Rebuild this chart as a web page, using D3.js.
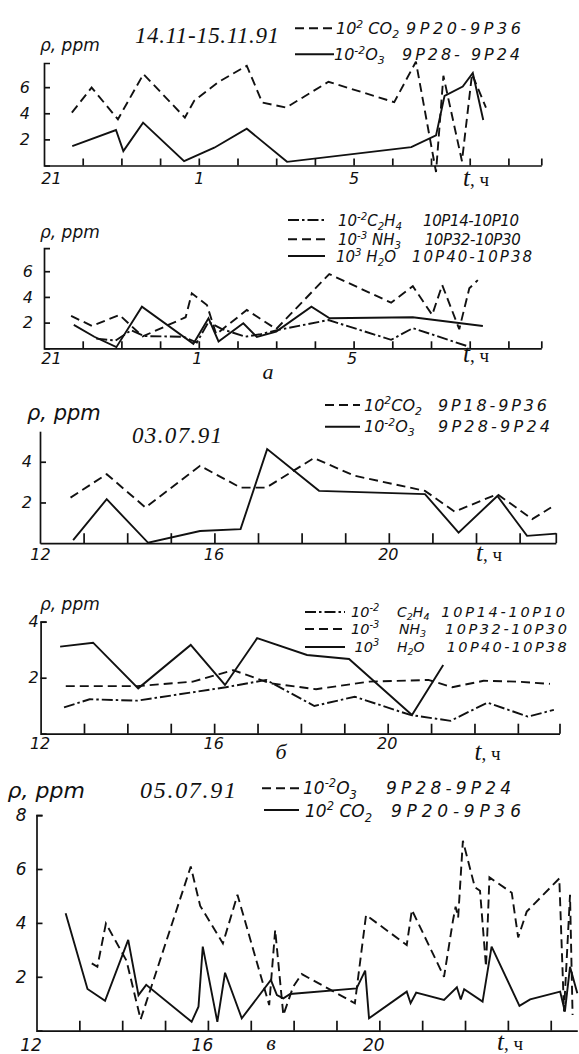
<!DOCTYPE html>
<html><head><meta charset="utf-8">
<script src="https://cdn.jsdelivr.net/npm/d3@7"></script>
<style>body{margin:0;background:#fff}svg{display:block}</style>
</head><body>
<svg id="c" width="579" height="1054"></svg>
<script>
// ---------- DATA ----------
// Panel a (upper): 14.11-15.11.91, hours counted from 21 h (values past midnight as 24+)
const p1_CO2 = [[21.72,4.05],[22.23,5.97],[22.91,3.54],[23.57,7.0],[24.64,3.67],[24.88,4.95],[25.49,6.36],[26.24,7.64],[26.64,4.82],[27.26,4.44],[28.35,6.41],[30.05,4.85],[30.61,7.95],[31.13,-0.5],[31.32,6.87],[31.80,0.33],[32.06,7.0],[32.42,4.44]];
const p1_O3 = [[21.73,1.49],[22.86,2.72],[23.05,1.10],[23.56,3.28],[24.62,0.33],[25.40,1.36],[26.24,2.82],[27.28,0.28],[30.49,1.41],[31.13,2.31],[31.35,5.33],[31.82,6.05],[32.08,7.08],[32.35,3.48]];
// Panel a (lower)
const p2_C2H4 = [[22.35,0.75],[22.85,0.6],[23.25,1.4],[23.6,0.95],[24.6,0.9],[24.95,0.45],[25.25,2.05],[25.6,1.5],[26.2,0.9],[26.6,1.1],[27.0,1.4],[28.35,2.2],[29.97,0.66],[30.53,1.57],[31.91,0.2]];
const p2_NH3 = [[21.70,2.52],[22.24,1.74],[22.95,2.60],[23.55,0.92],[24.66,2.42],[24.82,4.28],[25.21,3.37],[25.45,1.1],[26.24,2.98],[27.0,1.5],[28.37,5.78],[29.97,3.55],[30.53,4.84],[31.03,2.60],[31.29,4.92],[31.73,1.49],[31.99,4.67],[32.21,5.31]];
const p2_H2O = [[21.77,1.82],[22.3,0.9],[22.87,0.09],[23.53,3.24],[24.86,0.35],[25.25,2.34],[25.51,0.53],[26.15,1.95],[26.5,0.88],[27.0,1.3],[27.91,3.24],[28.38,2.34],[30.53,2.42],[32.34,1.74]];
// Panel б (upper): 03.07.91
const p3_CO2 = [[12.70,2.24],[13.53,3.39],[14.42,1.75],[15.67,3.80],[16.60,2.73],[17.19,2.73],[18.28,4.18],[19.22,3.31],[20.83,2.57],[21.51,1.55],[22.49,2.41],[23.29,1.18],[23.72,1.75]];
const p3_O3 = [[12.76,0.15],[13.53,2.16],[14.48,0.02],[15.67,0.60],[16.60,0.69],[17.21,4.62],[18.40,2.57],[20.83,2.41],[21.60,0.52],[22.49,2.32],[23.17,0.36],[23.84,0.47]];
// Panel б (lower)
const p4_C2H4 = [[12.54,0.94],[13.13,1.23],[14.23,1.18],[16.27,1.66],[17.20,1.92],[18.31,0.99],[19.24,1.32],[20.52,0.67],[21.45,0.46],[22.30,1.11],[23.23,0.61],[23.83,0.85]];
const p4_NH3 = [[12.58,1.70],[14.23,1.70],[15.51,1.86],[16.44,2.27],[17.29,1.80],[18.35,1.59],[19.58,1.86],[20.94,1.92],[21.49,1.66],[22.21,1.89],[22.98,1.86],[23.74,1.78]];
const p4_H2O = [[12.45,3.11],[13.21,3.25],[14.25,1.62],[15.46,3.17],[16.25,1.74],[16.99,3.41],[18.14,2.81],[19.11,2.67],[20.56,0.67],[21.28,2.45]];
// Panel в: 05.07.91
const p5_O3 = [[13.29,2.50],[13.42,2.37],[13.62,3.98],[14.1,2.6],[14.43,0.42],[15.60,6.09],[15.82,4.63],[16.35,3.24],[16.69,5.04],[17.43,0.95],[17.57,3.74],[17.76,0.58],[17.99,1.63],[18.19,2.10],[19.43,1.02],[19.69,4.29],[20.64,3.18],[20.76,4.48],[21.51,2.00],[21.72,4.1],[21.78,4.6],[21.84,4.2],[21.95,7.05],[22.23,5.32],[22.35,5.19],[22.49,2.37],[22.57,5.69],[23.09,5.12],[23.24,3.46],[23.44,4.42],[24.20,5.65],[24.31,0.71],[24.45,5.04],[24.51,0.58]];
const p5_CO2 = [[12.68,4.36],[13.19,1.55],[13.60,1.11],[14.14,3.37],[14.38,1.32],[14.56,1.70],[15.62,0.33],[15.78,0.89],[15.88,3.12],[16.22,0.33],[16.40,2.15],[16.79,0.46],[17.47,1.88],[17.61,1.32],[17.76,1.20],[17.92,1.36],[19.47,1.57],[19.67,2.23],[19.76,0.46],[20.64,1.45],[20.73,1.02],[20.86,1.41],[21.51,1.14],[21.81,1.61],[21.90,1.16],[21.98,1.54],[22.41,1.08],[22.62,3.12],[23.27,0.92],[23.52,1.16],[24.22,1.45],[24.33,0.71],[24.45,2.37],[24.62,1.39]];

// tick values / labels
const ticksNight = [21,22,23,24,25,26,27,28,29,30,31,32,33,33.85];
const labelsNight = [[21,"21"],[25,"1"],[29,"5"]];
const ticksDay3 = [12,13,14,15,16,17,18,19,20,21,22,23,23.83];
const ticksDay4 = [12,13,14,15,16,17,18,19,20,21,22,23,23.96];
const ticksDay5 = [12,13,14,15,16,17,18,19,20,21,22,23,24];
const labelsDay = [[12,"12"],[16,"16"],[20,"20"]];
const yTicks8 = [2,4,6];
const yTicks5 = [2,4];
const yTicks4 = [2,4];
const yTicks5b = [2,4,6,8];

// legend texts
const leg1 = [["10^{2} CO_{2}","9P20-9P36"],["10^{-2}O_{3}","9P28- 9P24"]];
const leg2 = [["10^{-2}C_{2}H_{4}","10P14-10P10"],["10^{-3} NH_{3}","10P32-10P30"],["10^{3} H_{2}O","10P40-10P38"]];
const leg3 = [["10^{2}CO_{2}","9P18-9P36"],["10^{-2}O_{3}","9P28-9P24"]];
const leg4 = [["10^{-2}","C_{2}H_{4}","10P14-10P10"],["10^{-3}","NH_{3}","10P32-10P30"],["10^{3}","H_{2}O","10P40-10P38"]];
const leg5 = [["10^{-2}O_{3}","9P28-9P24"],["10^{2} CO_{2}","9P20-9P36"]];
const dates = ["14.11-15.11.91","03.07.91","05.07.91"];
const yTitle = "ρ, ppm";
const xTitleT = "t", xTitleU = ", ч";
const panelLetters = ["a","б","в"];

// ---------- DRAW ----------
const svg = d3.select('#c');
const SANS = "'DejaVu Sans','Liberation Sans',sans-serif";
const SERIF = "'Liberation Serif','DejaVu Serif',serif";
const INK = '#111';
const DASH = {solid: null, dashed: '9,5', dashdot: '11,3,2.5,3'};

function rich(t, str, fs) {
  const parts = str.split(/(\^\{[^}]*\}|_\{[^}]*\})/).filter(s => s.length);
  let shift = 0;
  parts.forEach(p => {
    let txt = p, dy = 0, size = fs;
    if (p.startsWith('^{')) { txt = p.slice(2,-1); size = fs*0.68; dy = -fs*0.4; }
    else if (p.startsWith('_{')) { txt = p.slice(2,-1); size = fs*0.68; dy = fs*0.28; }
    const ts = t.append('tspan').attr('font-size', size).text(txt);
    if (dy - shift) ts.attr('dy', dy - shift);
    shift = dy;
  });
}

function sansText(x, y, str, fs, len) {
  const t = svg.append('text').attr('x', x).attr('y', y).attr('font-family', SANS)
    .attr('font-style','italic').attr('font-size', fs).attr('fill', INK);
  if (str.indexOf('^{')>=0 || str.indexOf('_{')>=0) rich(t, str, fs); else t.text(str);
  if (len) t.attr('textLength', len).attr('lengthAdjust','spacing');
  return t;
}
function serifText(x, y, str, fs, len, anchor) {
  const t = svg.append('text').attr('x', x).attr('y', y).attr('font-family', SERIF)
    .attr('font-style','italic').attr('font-size', fs).attr('fill', INK).text(str);
  if (len) t.attr('textLength', len).attr('lengthAdjust','spacing');
  if (anchor) t.attr('text-anchor', anchor);
  return t;
}
function xTitle(x, y) {
  const t = svg.append('text').attr('x', x).attr('y', y).attr('fill', INK).attr('font-family', SERIF);
  t.append('tspan').attr('font-style','italic').attr('font-size', 25).text(xTitleT);
  t.append('tspan').attr('font-size', 19).text(xTitleU);
}
function legendLine(x1, x2, y, style) {
  svg.append('line').attr('x1', x1).attr('x2', x2).attr('y1', y).attr('y2', y)
    .attr('stroke', INK).attr('stroke-width', 1.9).attr('stroke-dasharray', DASH[style]);
}

function drawPanel(c) {
  const x = d3.scaleLinear().domain(c.xDomain).range(c.xRange);
  const y = d3.scaleLinear().domain(c.yDomain).range(c.yRange);
  const g = svg.append('g');
  const lab = new Map(c.xLabels);
  const xa = d3.axisBottom(x).tickValues(c.xTicks).tickSize(-c.xTickLen).tickSizeOuter(0)
    .tickPadding(c.xPad).tickFormat(d => lab.get(d) || '');
  const gx = g.append('g').attr('transform', `translate(0,${y(0)})`).call(xa);
  gx.selectAll('.tick').filter(d => d === c.xDomain[0]).select('line').remove();
  gx.selectAll('.tick text').attr('dx', d => d === c.xDomain[0] ? c.firstDx : c.labelDx);
  const ya = d3.axisLeft(y).tickValues(c.yTicks).tickSize(-6).tickSizeOuter(c.bracket ? -6 : 0)
    .tickPadding(c.yPad).tickFormat(d3.format('d'));
  const gy = g.append('g').attr('transform', `translate(${x(c.xDomain[0])},0)`).call(ya);
  [gx, gy].forEach(a => {
    a.selectAll('path,line').attr('stroke', INK).attr('stroke-width', 1.7);
    a.selectAll('text').attr('font-family', SANS).attr('font-style','italic')
      .attr('font-size', c.tickFs).attr('fill', INK);
  });
  const line = d3.line().x(d => x(d[0])).y(d => y(d[1]));
  c.series.forEach(s => {
    g.append('path').datum(s.data).attr('d', line).attr('fill','none')
      .attr('stroke', INK).attr('stroke-width', 1.9).attr('stroke-linejoin','miter')
      .attr('stroke-miterlimit', 3).attr('stroke-dasharray', DASH[s.style]);
  });
}

// Panel 1
drawPanel({xDomain:[21,33.85], xRange:[44,541.3], yDomain:[0,7.85], yRange:[165.5,63],
  xTicks: ticksNight, xLabels: labelsNight, yTicks: yTicks8, xTickLen:7, xPad:7, yPad:14,
  firstDx: 7, labelDx: 0, tickFs: 16, bracket: true,
  series:[{data:p1_CO2, style:'dashed'},{data:p1_O3, style:'solid'}]});
// Panel 2
drawPanel({xDomain:[21,33.85], xRange:[44,541.3], yDomain:[0,7.8], yRange:[348.3,248.1],
  xTicks: ticksNight, xLabels: labelsNight, yTicks: yTicks8, xTickLen:7, xPad:4, yPad:11,
  firstDx: 7, labelDx: -2, tickFs: 16, bracket: true,
  series:[{data:p2_C2H4, style:'dashdot'},{data:p2_NH3, style:'dashed'},{data:p2_H2O, style:'solid'}]});
// Panel 3
drawPanel({xDomain:[12,23.83], xRange:[40,555.8], yDomain:[0,5.5], yRange:[543.2,431.2],
  xTicks: ticksDay3, xLabels: labelsDay, yTicks: yTicks5, xTickLen:10, xPad:5, yPad:8,
  firstDx: 0, labelDx: -1, tickFs: 16, bracket: false,
  series:[{data:p3_CO2, style:'dashed'},{data:p3_O3, style:'solid'}]});
// Panel 4
drawPanel({xDomain:[12,23.96], xRange:[40.6,559.5], yDomain:[0,4], yRange:[733.7,621.7],
  xTicks: ticksDay4, xLabels: labelsDay, yTicks: yTicks4, xTickLen:10, xPad:4, yPad:2,
  firstDx: -1, labelDx: -1, tickFs: 16, bracket: true,
  series:[{data:p4_C2H4, style:'dashdot'},{data:p4_NH3, style:'dashed'},{data:p4_H2O, style:'solid'}]});
// Panel 5
drawPanel({xDomain:[12,24.62], xRange:[36.5,577.3], yDomain:[0,8], yRange:[1030.7,815.1],
  xTicks: ticksDay5, xLabels: labelsDay, yTicks: yTicks5b, xTickLen:10, xPad:8, yPad:10,
  firstDx: -6, labelDx: -6, tickFs: 17, bracket: true,
  series:[{data:p5_O3, style:'dashed'},{data:p5_CO2, style:'solid'}]});

// ----- titles, legends -----
// Panel 1
sansText(40, 51, yTitle, 17);
serifText(135, 43, dates[0], 23, 144);
legendLine(295, 334, 28.3, 'dashed');
sansText(336, 34, leg1[0][0], 16);
sansText(406, 34, leg1[0][1], 16, 115);
legendLine(295, 334, 54.3, 'solid');
sansText(334, 60, leg1[1][0], 16);
sansText(402, 60, leg1[1][1], 16, 118);
xTitle(463, 186);
// Panel 2
sansText(40, 238, yTitle, 17);
legendLine(288, 325, 220, 'dashdot');
sansText(338, 225.5, leg2[0][0], 15);
sansText(423, 225.5, leg2[0][1], 15, 96);
legendLine(288, 325, 239.3, 'dashed');
sansText(338, 245, leg2[1][0], 15);
sansText(424.7, 245, leg2[1][1], 15, 96);
legendLine(288, 325, 256, 'solid');
sansText(336, 262, leg2[2][0], 15);
sansText(412, 262, leg2[2][1], 15, 120);
xTitle(463, 362);
serifText(268, 379, panelLetters[0], 22, null, 'middle');
// Panel 3
sansText(27, 420, yTitle, 21);
serifText(132, 443, dates[1], 23, 90);
legendLine(325, 360, 405, 'dashed');
sansText(364, 410.5, leg3[0][0], 16);
sansText(438, 410.5, leg3[0][1], 16, 109);
legendLine(325, 360, 426.7, 'solid');
sansText(364, 432, leg3[1][0], 16);
sansText(438, 432, leg3[1][1], 16, 112);
xTitle(476, 561);
// Panel 4
sansText(40, 610, yTitle, 17);
[[612,'dashdot'],[629,'dashed'],[647,'solid']].forEach((r,i) => {
  legendLine(305, 345, r[0], r[1]);
  sansText(i === 2 ? 354.5 : 351, r[0]+5, leg4[i][0], 14.5);
  sansText(i === 1 ? 399 : 397, r[0]+4.5, leg4[i][1], 14);
  sansText([441.3,445,446.8][i], r[0]+5, leg4[i][2], 14.5, [123.7,122,120][i]);
});
xTitle(474.5, 760);
serifText(281, 759, panelLetters[1], 22, null, 'middle');
// Panel 5
sansText(7.5, 798, yTitle, 22);
serifText(140, 798, dates[2], 24, 96);
legendLine(262, 301, 788.3, 'dashed');
sansText(303, 794, leg5[0][0], 17);
sansText(386, 794, leg5[0][1], 17, 125);
legendLine(264, 299, 810, 'solid');
sansText(305, 817, leg5[1][0], 17);
sansText(391, 817, leg5[1][1], 17, 130);
xTitle(497, 1050);
serifText(271, 1050, panelLetters[2], 22, null, 'middle');
</script>
</body></html>
